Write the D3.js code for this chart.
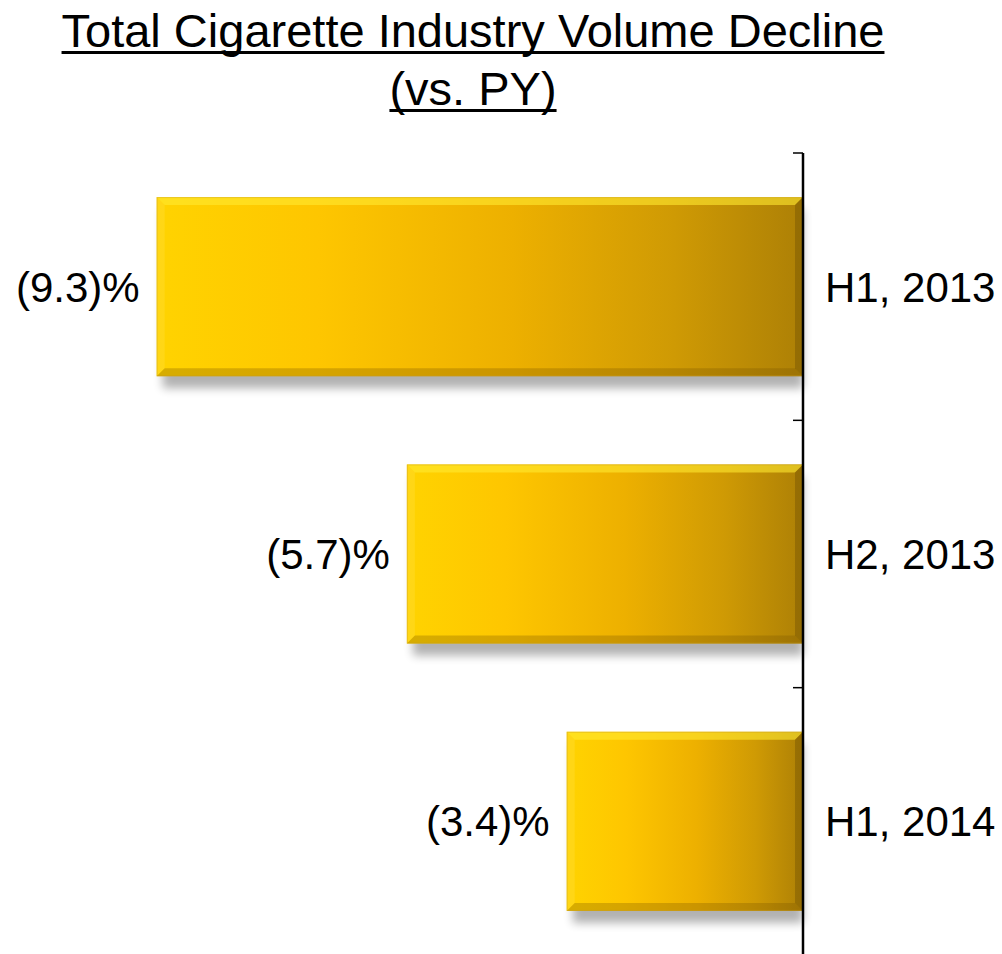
<!DOCTYPE html>
<html>
<head>
<meta charset="utf-8">
<script src="https://cdn.jsdelivr.net/npm/d3@7"></script>
<style>
  html, body { margin: 0; padding: 0; background: #fff; }
  svg { display: block; font-family: "Liberation Sans", Arial, sans-serif; }
</style>
</head>
<body>
<svg id="chart" width="1002" height="954"></svg>
<script>
// Half-year periods and their volume change versus prior year (%)
const periods = ["H1, 2013", "H2, 2013", "H1, 2014"];
const changes = [-9.3, -5.7, -3.4];
const titleLines = ["Total Cigarette Industry Volume Decline", "(vs. PY)"];

const svg = d3.select("#chart");
const defs = svg.append("defs");

// Horizontal gold gradient shared by all bars (stretched over each bar)
const grad = defs.append("linearGradient")
  .attr("id", "goldFill").attr("x1", "0%").attr("x2", "100%").attr("y1", "0%").attr("y2", "0%");
[["0%", "#FFD300"], ["25%", "#FEC600"], ["55%", "#EDB000"], ["80%", "#CF9A04"], ["100%", "#AD8006"]]
  .forEach(([o, c]) => grad.append("stop").attr("offset", o).attr("stop-color", c));

// Soft drop shadow beneath each bar
const shadow = defs.append("filter").attr("id", "barShadow")
  .attr("x", "-10%").attr("y", "-10%").attr("width", "120%").attr("height", "130%");
shadow.append("feGaussianBlur").attr("stdDeviation", 5);

// Scales
const axisX = 803;
const x = d3.scaleLinear().domain([-10, 0]).range([108, axisX]);
const y = d3.scaleBand().domain(periods).range([153, 955]).paddingInner(0.33).paddingOuter(0.165);

// Title with underlines
const titleX = 473;
const titleBaselines = [47, 105];
titleLines.forEach((line, i) => {
  const t = svg.append("text")
    .attr("x", titleX).attr("y", titleBaselines[i])
    .attr("text-anchor", "middle")
    .attr("font-size", 47).attr("fill", "#000")
    .text(line);
  const w = t.node().getComputedTextLength();
  svg.append("rect")
    .attr("x", titleX - w / 2).attr("y", titleBaselines[i] + 4)
    .attr("width", w).attr("height", 3).attr("fill", "#000");
});

const bevel = 8;
const data = periods.map((p, i) => ({ period: p, value: changes[i] }));

const bars = svg.append("g").selectAll("g").data(data).join("g");

bars.each(function(d) {
  const g = d3.select(this);
  const x0 = x(d.value), x1 = x(0);
  const y0 = y(d.period), h = y.bandwidth(), y1 = y0 + h;
  const w = x1 - x0;

  // shadow
  g.append("rect")
    .attr("x", x0 + 6).attr("y", y0 + 12).attr("width", w - 6).attr("height", h)
    .attr("fill", "#000").attr("opacity", 0.3).attr("filter", "url(#barShadow)");

  // body
  g.append("rect")
    .attr("x", x0).attr("y", y0).attr("width", w).attr("height", h)
    .attr("fill", "url(#goldFill)");

  // bevel faces
  const face = (pts, fill, op) => g.append("polygon")
    .attr("points", pts.map(p => p.join(",")).join(" "))
    .attr("fill", fill).attr("opacity", op);
  face([[x0, y0], [x1, y0], [x1 - bevel, y0 + bevel], [x0 + bevel, y0 + bevel]], "#FFEA30", 0.6);
  face([[x0, y0], [x0 + bevel, y0 + bevel], [x0 + bevel, y1 - bevel], [x0, y1]], "#FFE040", 0.35);
  face([[x0, y1], [x0 + bevel, y1 - bevel], [x1 - bevel, y1 - bevel], [x1, y1]], "#7A5500", 0.3);
  face([[x1, y0], [x1, y1], [x1 - bevel, y1 - bevel], [x1 - bevel, y0 + bevel]], "#5A3E00", 0.3);

  // thin outer edge
  g.append("rect")
    .attr("x", x0 + 0.5).attr("y", y0 + 0.5).attr("width", w - 1).attr("height", h - 1)
    .attr("fill", "none").attr("stroke", "#C89E20").attr("stroke-opacity", 0.4).attr("stroke-width", 1);

  // value label
  g.append("text")
    .attr("x", x0 - 17).attr("y", y0 + h / 2).attr("dy", "0.36em")
    .attr("text-anchor", "end").attr("font-size", 42).attr("fill", "#000")
    .text(`(${Math.abs(d.value).toFixed(1)})%`);
});

// Category axis on the zero line: ticks point left, labels sit to the right
const step = y.step();
const axisTop = y.range()[0];
const axis = svg.append("g");
axis.append("line")
  .attr("x1", axisX).attr("x2", axisX).attr("y1", axisTop).attr("y2", 954)
  .attr("stroke", "#000").attr("stroke-width", 2.5);
d3.range(periods.length + 1).forEach(i => {
  const ty = axisTop + i * step;
  axis.append("line")
    .attr("x1", axisX - 10).attr("x2", axisX).attr("y1", ty).attr("y2", ty)
    .attr("stroke", "#000").attr("stroke-width", 1.5);
});
axis.selectAll("text.cat").data(periods).join("text")
  .attr("class", "cat")
  .attr("x", axisX + 22).attr("y", d => y(d) + y.bandwidth() / 2).attr("dy", "0.36em")
  .attr("font-size", 42).attr("fill", "#000")
  .text(d => d);
</script>
</body>
</html>
